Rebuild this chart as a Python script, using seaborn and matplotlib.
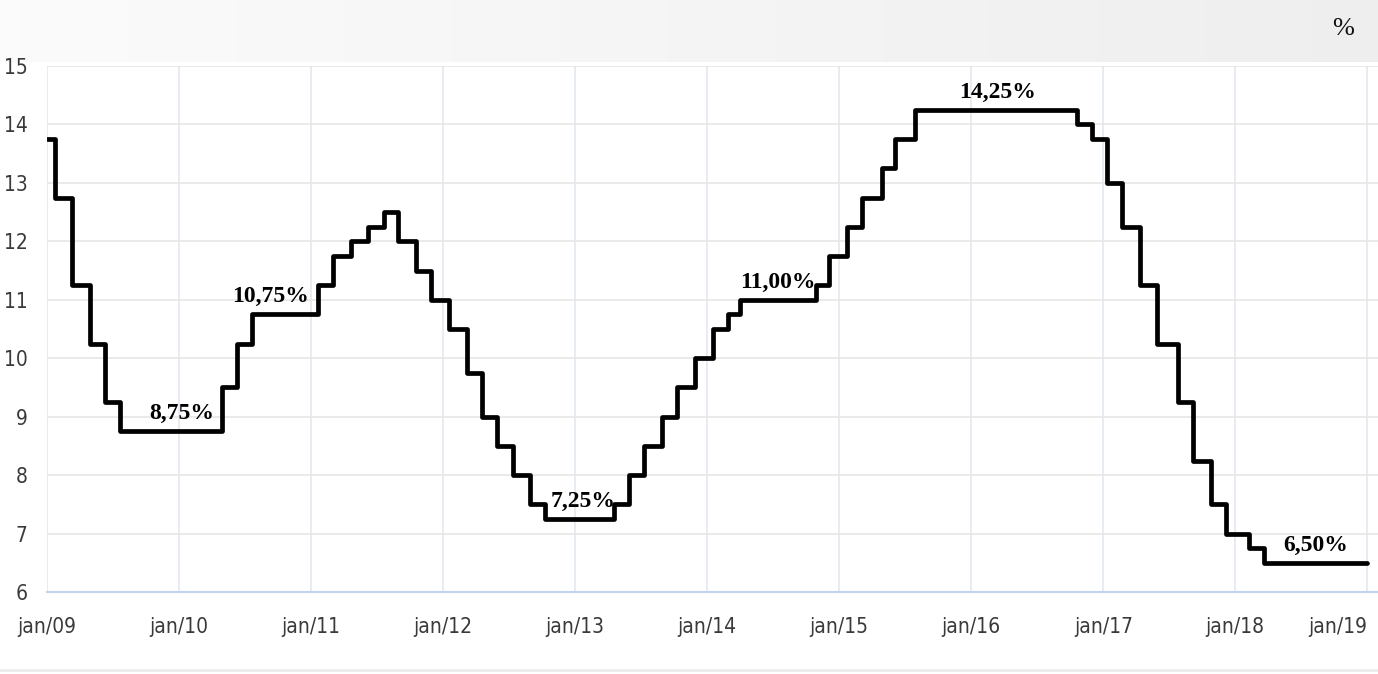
import numpy as np
import pandas as pd
import matplotlib.pyplot as plt
import matplotlib.patches as mpatches
import matplotlib.transforms as mtransforms
import seaborn as sns

# Taxa Selic (% a.a.) - decisões do Copom, jan/09 a jan/19
dates = [
    "2009-01-01", "2009-01-22", "2009-03-12", "2009-04-30", "2009-06-11", "2009-07-23",
    "2010-04-29", "2010-06-10", "2010-07-22",
    "2011-01-20", "2011-03-03", "2011-04-21", "2011-06-09", "2011-07-21", "2011-08-31",
    "2011-10-20", "2011-11-30",
    "2012-01-19", "2012-03-08", "2012-04-19", "2012-05-31", "2012-07-12", "2012-08-30",
    "2012-10-11",
    "2013-04-18", "2013-05-30", "2013-07-11", "2013-08-29", "2013-10-10", "2013-11-28",
    "2014-01-16", "2014-02-27", "2014-04-03", "2014-10-29", "2014-12-04",
    "2015-01-22", "2015-03-05", "2015-04-30", "2015-06-04", "2015-07-30",
    "2016-10-20", "2016-11-30",
    "2017-01-12", "2017-02-23", "2017-04-13", "2017-05-31", "2017-07-27", "2017-09-07",
    "2017-10-26", "2017-12-07",
    "2018-02-08", "2018-03-22", "2019-01-01",
]
selic = [
    13.75, 12.75, 11.25, 10.25, 9.25, 8.75,
    9.50, 10.25, 10.75,
    11.25, 11.75, 12.00, 12.25, 12.50, 12.00,
    11.50, 11.00,
    10.50, 9.75, 9.00, 8.50, 8.00, 7.50,
    7.25,
    7.50, 8.00, 8.50, 9.00, 9.50, 10.00,
    10.50, 10.75, 11.00, 11.25, 11.75,
    12.25, 12.75, 13.25, 13.75, 14.25,
    14.00, 13.75,
    13.00, 12.25, 11.25, 10.25, 9.25, 8.25,
    7.50, 7.00,
    6.75, 6.50, 6.50,
]

tick_dates = ["2009-01-01", "2010-01-01", "2011-01-01", "2012-01-01", "2013-01-01",
              "2014-01-01", "2015-01-01", "2016-01-01", "2017-01-01", "2018-01-01",
              "2019-01-01"]
tick_labels = ["jan/09", "jan/10", "jan/11", "jan/12", "jan/13", "jan/14",
               "jan/15", "jan/16", "jan/17", "jan/18", "jan/19"]

# rótulos dos patamares
label_texts = ["8,75%", "10,75%", "7,25%", "11,00%", "14,25%", "6,50%"]
label_dates = ["2010-01-08", "2010-09-12", "2013-01-22", "2014-07-15", "2016-03-15", "2018-08-12"]
label_values = [8.75, 10.75, 7.25, 11.00, 14.25, 6.50]

df = pd.DataFrame({"data": pd.to_datetime(dates), "selic": selic})

sns.set_style("white")
serif = ["Liberation Serif", "DejaVu Serif"]

fig = plt.figure(figsize=(13.78, 6.74), dpi=100)
fig.patch.set_facecolor("white")

# faixa cinza do topo (degradê)
band = fig.add_axes([0, 1 - 62 / 674, 1, 62 / 674], zorder=0)
grad = np.linspace(0.985, 0.935, 256).reshape(1, -1)
band.imshow(np.dstack([grad, grad, grad]), aspect="auto", extent=(0, 1, 0, 1))
band.axis("off")
fig.patches.append(mpatches.Rectangle((0, 0.003), 1, 0.004, transform=fig.transFigure,
                                      facecolor="#ededed", edgecolor="none", zorder=0))
fig.text(1343 / 1378, 1 - 29 / 674, "%", ha="center", va="center",
         fontsize=19, family=serif, color="#111111")

ax = fig.add_axes([47 / 1378, 82 / 674, 1 - 47 / 1378, (592 - 66) / 674])
ax.set_facecolor("white")

sns.lineplot(data=df, x="data", y="selic", ax=ax, color="black", linewidth=3.4,
             drawstyle="steps-post", zorder=3)

ax.set_ylim(6, 15)
ax.set_xlim(pd.Timestamp("2009-01-01"), pd.Timestamp("2019-01-31"))
ax.set_yticks(range(6, 16))
ax.set_yticklabels([str(v) for v in range(6, 16)])
ax.set_xticks(pd.to_datetime(tick_dates))
ax.set_xticklabels(tick_labels)
for lab in ax.get_xticklabels() + ax.get_yticklabels():
    lab.set_family("DejaVu Sans")
    lab.set_stretch("condensed")
    lab.set_fontsize(15)
    lab.set_color("#3a3a3a")
# último rótulo encostado na borda direita
last = ax.get_xticklabels()[-1]
last.set_horizontalalignment("right")
last.set_transform(last.get_transform() + mtransforms.ScaledTranslation(10 / 100, 0, fig.dpi_scale_trans))
ax.set_xlabel("")
ax.set_ylabel("")

ax.grid(axis="y", color="#e6e6e6", linewidth=1.2)
ax.grid(axis="x", color="#e3e7f0", linewidth=1.2)
ax.set_axisbelow(True)
for side in ["top", "right", "left"]:
    ax.spines[side].set_visible(False)
ax.spines["bottom"].set_color("#c5d3f3")
ax.spines["bottom"].set_linewidth(1.5)
ax.tick_params(axis="x", length=14, color="#dde4f3", width=1.2, pad=4)
ax.tick_params(axis="y", length=0, pad=14)

for txt, d, v in zip(label_texts, label_dates, label_values):
    ax.annotate(txt, (pd.Timestamp(d), v), xytext=(0, 5), textcoords="offset points",
                ha="center", va="bottom", fontsize=17, fontweight="bold",
                family=serif, color="black", zorder=4)

plt.savefig("out.png", dpi=100)
